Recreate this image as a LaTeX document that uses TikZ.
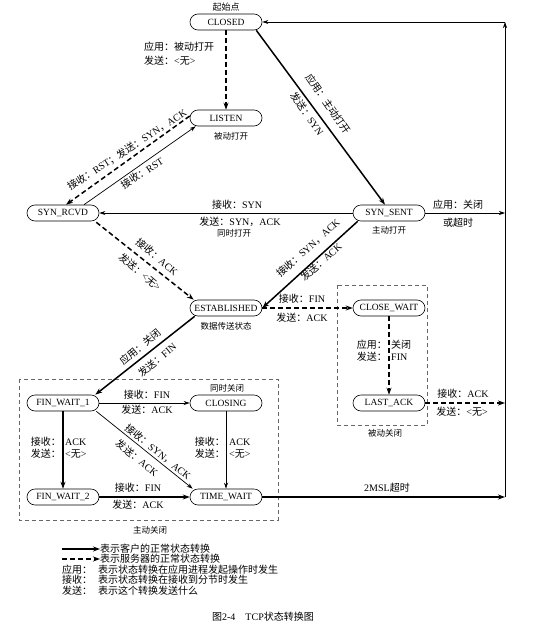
\documentclass[tikz,border=0pt]{standalone}
\usepackage{fontspec}
\setmainfont{Liberation Serif}
\newfontfamily\cjk{Noto Sans CJK SC}
\usetikzlibrary{arrows.meta}
\begin{document}
\begin{tikzpicture}[x=1pt,y=-1pt,
  state/.style={draw, line width=0.6pt, rounded corners=8pt, minimum width=72pt, minimum height=16pt, inner sep=1pt, font=\fontsize{9.5}{10}\selectfont},
  cli/.style={line width=1.5pt, -{Stealth[length=7pt,width=5pt]}},
  srv/.style={line width=1.5pt, dash pattern=on 5pt off 3pt, -{Stealth[length=7pt,width=5pt]}},
  thinedge/.style={line width=0.7pt, -{Stealth[length=6pt,width=4pt]}},
  lab/.style={font=\fontsize{10}{11}\selectfont, inner sep=0pt},
  ann/.style={font=\cjk\fontsize{8.5}{9}\selectfont, inner sep=0pt},
  region/.style={draw=black!60, line width=0.6pt, dash pattern=on 4pt off 3pt}
]
\useasboundingbox (0,0) rectangle (535,637);

% regions
\draw[region] (19,379) rectangle (278,520);
\draw[region] (337,285) rectangle (427,425);

% states
\node[state] (closed) at (226,22) {CLOSED};
\node[state] (listen) at (226,118) {LISTEN};
\node[state] (synrcvd) at (63,213) {SYN\_RCVD};
\node[state] (synsent) at (389,213) {SYN\_SENT};
\node[state] (estab) at (226,308) {ESTABLISHED};
\node[state] (closewait) at (389,308) {CLOSE\_WAIT};
\node[state] (lastack) at (389,403) {LAST\_ACK};
\node[state] (fw1) at (63,403) {FIN\_WAIT\_1};
\node[state] (closing) at (226,403) {CLOSING};
\node[state] (fw2) at (63,497) {FIN\_WAIT\_2};
\node[state] (timewait) at (226,497) {TIME\_WAIT};

% annotations
\node[lab] (a1) at (226,7) {\cjk\fontsize{9}{10}\selectfont 起始点};
\node[ann] (a2) at (231,136) {被动打开};
\node[ann] (a3) at (389,230) {主动打开};
\node[ann] (a4) at (226,326) {数据传送状态};
\node[ann] (a5) at (234,233) {同时打开};
\node[ann] (a6) at (227,388) {同时关闭};
\node[ann] (a7) at (385,433) {被动关闭};
\node[ann] (a8) at (150,530) {主动关闭};

% right side coordinates
\coordinate (rtop) at (505,22);
\coordinate (r3) at (505,213);
\coordinate (r2) at (505,403);
\coordinate (r1) at (505,497);

% edges
\draw[srv] (closed) -- (listen);
\draw[cli] ([xshift=-6pt]closed.south east) -- ([xshift=-4pt]synsent.north);
\draw[srv] ([yshift=2pt]listen.west) -- ([xshift=3pt]synrcvd.north);
\draw[thinedge] ([xshift=21pt]synrcvd.north) -- ([xshift=6pt]listen.south west);
\draw[thinedge] (synsent.west) -- (synrcvd.east);
\draw[srv] ([xshift=-3pt,yshift=-1pt]synrcvd.south east) -- ([xshift=4pt]estab.north west);
\draw[cli] ([xshift=5pt]synsent.south west) -- (estab.east);
\draw[srv] (estab.east) -- (closewait.west);
\draw[srv] (closewait) -- (lastack);
\draw[cli] ([xshift=5pt]estab.south west) -- ([xshift=-4pt]fw1.north east);
\draw[thinedge] (fw1.east) -- (closing.west);
\draw[cli] (fw1) -- (fw2);
\draw[thinedge] ([xshift=-3pt]fw1.south east) -- ([xshift=3pt]timewait.north west);
\draw[thinedge] (closing) -- (timewait);
\draw[cli] (fw2.east) -- (timewait.west);
\draw[cli] (timewait.east) -- (r1);
\draw[srv] (lastack.east) -- (r2);
\draw[thinedge] (synsent.east) -- (r3);
\draw[thinedge] (r1) -- (rtop);
\draw[thinedge] (rtop) -- (closed.east);

% edge labels
\node[lab, anchor=west] (l1a) at (144,47) {\cjk 应用：被动打开};
\node[lab, anchor=west] (l1b) at (144,61) {{\cjk 发送：}<{\cjk 无}>};
\node[lab, rotate=-55] (l2a) at (328,104) {\cjk 应用：主动打开};
\node[lab, rotate=-55] (l2b) at (307,114) {{\cjk 发送：}SYN};
\node[lab, rotate=33] (l3) at (127,150) {{\cjk 接收：}RST{\cjk ；发送：}SYN{\cjk ，}ACK};
\node[lab, rotate=33] (l4) at (142,173) {{\cjk 接收：}RST};
\node[lab] (l5a) at (237,205) {{\cjk 接收：}SYN};
\node[lab] (l5b) at (240,222) {{\cjk 发送：}SYN{\cjk ，}ACK};
\node[lab, rotate=-40] (l6a) at (157,257) {{\cjk 接收：}ACK};
\node[lab, rotate=-40] (l6b) at (140,272) {{\cjk 发送：}<{\cjk 无}>};
\node[lab, rotate=42] (l7a) at (308,248) {{\cjk 接收：}SYN{\cjk ，}ACK};
\node[lab, rotate=42] (l7b) at (321,262) {{\cjk 发送：}ACK};
\node[lab] (l8a) at (302,299) {{\cjk 接收：}FIN};
\node[lab] (l8b) at (302,318) {{\cjk 发送：}ACK};
\node[lab, anchor=east] (l9a) at (387,345) {\cjk 应用：};
\node[lab, anchor=west] (l9b) at (391,345) {\cjk 关闭};
\node[lab, anchor=east] (l9c) at (387,357) {\cjk 发送：};
\node[lab, anchor=west] (l9d) at (391,357) {FIN};
\node[lab, rotate=40] (l10a) at (140,347) {\cjk 应用：关闭};
\node[lab, rotate=40] (l10b) at (157,360) {{\cjk 发送：}FIN};
\node[lab] (l11a) at (147,395) {{\cjk 接收：}FIN};
\node[lab] (l11b) at (147,410) {{\cjk 发送：}ACK};
\node[lab, anchor=east] (l12a) at (61,442) {\cjk 接收：};
\node[lab, anchor=west] (l12b) at (65,442) {ACK};
\node[lab, anchor=east] (l12c) at (61,454) {\cjk 发送：};
\node[lab, anchor=west] (l12d) at (65,454) {<{\cjk 无}>};
\node[lab, rotate=-39] (l13a) at (158,452) {{\cjk 接收：}SYN{\cjk ，}ACK};
\node[lab, rotate=-39] (l13b) at (137,458) {{\cjk 发送：}ACK};
\node[lab, anchor=east] (l14a) at (225,442) {\cjk 接收：};
\node[lab, anchor=west] (l14b) at (229,442) {ACK};
\node[lab, anchor=east] (l14c) at (225,454) {\cjk 发送：};
\node[lab, anchor=west] (l14d) at (229,454) {<{\cjk 无}>};
\node[lab] (l15a) at (138,488) {{\cjk 接收：}FIN};
\node[lab] (l15b) at (138,505) {{\cjk 发送：}ACK};
\node[lab] (l16) at (387,488) {2MSL{\cjk 超时}};
\node[lab] (l17a) at (463,394) {{\cjk 接收：}ACK};
\node[lab] (l17b) at (462,412) {{\cjk 发送：}<{\cjk 无}>};
\node[lab] (l18a) at (458,205) {\cjk 应用：关闭};
\node[lab] (l18b) at (458,223) {\cjk 或超时};

% legend
\coordinate (g1s) at (62,549); \coordinate (g1e) at (100,549);
\coordinate (g2s) at (62,559); \coordinate (g2e) at (100,559);
\draw[cli] (g1s) -- (g1e);
\draw[srv] (g2s) -- (g2e);
\node[lab, anchor=west] (g1) at (100,549) {\cjk 表示客户的正常状态转换};
\node[lab, anchor=west] (g2) at (100,559) {\cjk 表示服务器的正常状态转换};
\node[lab, anchor=west] (g3) at (62,570) {\cjk 应用：};
\node[lab, anchor=west] (g3d) at (98,570) {\cjk 表示状态转换在应用进程发起操作时发生};
\node[lab, anchor=west] (g4) at (62,580) {\cjk 接收：};
\node[lab, anchor=west] (g4d) at (98,580) {\cjk 表示状态转换在接收到分节时发生};
\node[lab, anchor=west] (g5) at (62,591) {\cjk 发送：};
\node[lab, anchor=west] (g5d) at (98,591) {\cjk 表示这个转换发送什么};

% caption
\node[lab] (cap) at (263,617) {{\cjk 图}2-4\hspace{1em}TCP{\cjk 状态转换图}};
\end{tikzpicture}
\end{document}
